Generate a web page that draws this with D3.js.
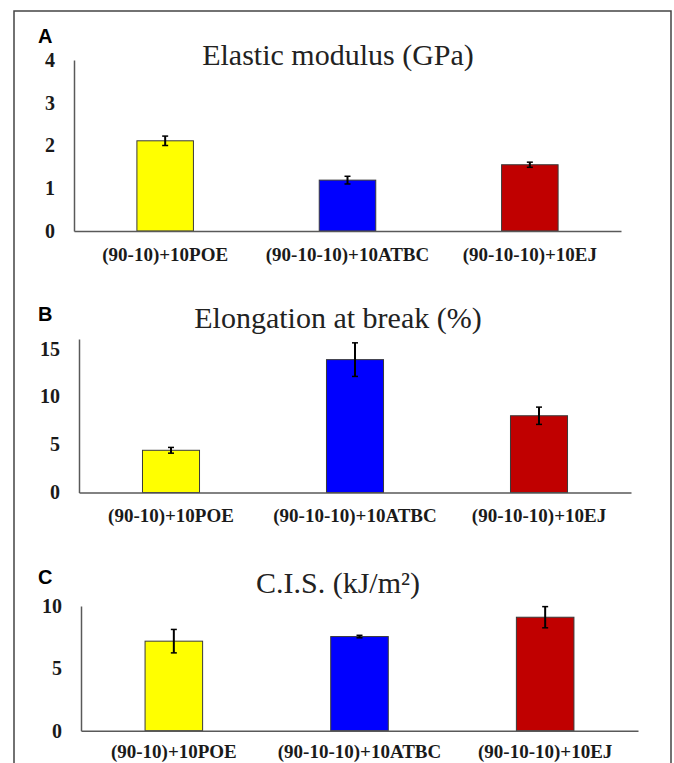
<!DOCTYPE html>
<html>
<head>
<meta charset="utf-8">
<script src="https://cdn.jsdelivr.net/npm/d3@7"></script>
<style>
  body { margin: 0; background: #fff; }
  svg { display: block; }
</style>
</head>
<body>
<div id="chart"></div>
<script>
// data
const categories = ["(90-10)+10POE", "(90-10-10)+10ATBC", "(90-10-10)+10EJ"];
const barColors = ["#FFFF00", "#0000FF", "#C00000"];

const modulus = [2.11, 1.19, 1.55];
const modulusErr = [0.11, 0.09, 0.06];
const modulusTicks = [0, 1, 2, 3, 4];

const elongation = [4.4, 13.85, 8.0];
const elongationErr = [0.3, 1.75, 0.9];
const elongationTicks = [0, 5, 10, 15];

const cis = [7.18, 7.55, 9.1];
const cisErr = [0.94, 0.1, 0.85];
const cisTicks = [0, 5, 10];

const W = 674, H = 763;

const svg = d3.select("#chart").append("svg")
    .attr("width", W)
    .attr("height", H);

// outer frame (open at the bottom, cropped)
svg.append("path")
    .attr("d", "M14," + (H + 5) + " L14,11 L671,11 L671," + (H + 5))
    .attr("fill", "none")
    .attr("stroke", "#444")
    .attr("stroke-width", 1.5);

const panels = [
  { letter: "A", title: "Elastic modulus (GPa)", values: modulus, err: modulusErr, ticks: modulusTicks,
    yMax: 4, x0: 74, x1: 621, yTop: 60, yBase: 231, letterY: 43, titleY: 65, labelPad: 16.5 },
  { letter: "B", title: "Elongation at break (%)", values: elongation, err: elongationErr, ticks: elongationTicks,
    yMax: 16, x0: 79, x1: 631, yTop: 339, yBase: 492.5, letterY: 321, titleY: 328, labelPad: 16.5 },
  { letter: "C", title: "C.I.S. (kJ/m\u00B2)", values: cis, err: cisErr, ticks: cisTicks,
    yMax: 10, x0: 81, x1: 638, yTop: 606, yBase: 730.7, letterY: 584, titleY: 593, labelPad: 14 }
];

panels.forEach(p => {
  const g = svg.append("g");

  const x = d3.scaleBand()
      .domain(categories)
      .range([p.x0, p.x1])
      .paddingInner(0.69)
      .paddingOuter(0.345);

  const y = d3.scaleLinear()
      .domain([0, p.yMax])
      .range([p.yBase, p.yTop]);

  // panel letter
  g.append("text")
      .attr("x", 38)
      .attr("y", p.letterY)
      .style("font-family", "'Liberation Sans', Arial, sans-serif")
      .style("font-weight", "bold")
      .style("font-size", "20px")
      .attr("fill", "#000")
      .text(p.letter);

  // title
  g.append("text")
      .attr("x", 338)
      .attr("y", p.titleY)
      .attr("text-anchor", "middle")
      .style("font-family", "'Liberation Serif', 'Times New Roman', serif")
      .style("font-size", "30px")
      .attr("fill", "#222")
      .text(p.title);

  // bars
  g.selectAll(".bar")
    .data(p.values)
    .enter().append("rect")
      .attr("class", "bar")
      .attr("x", (d, i) => x(categories[i]))
      .attr("y", d => y(d))
      .attr("width", x.bandwidth())
      .attr("height", d => y(0) - y(d))
      .attr("fill", (d, i) => barColors[i])
      .attr("stroke", "#3a3a3a")
      .attr("stroke-width", 1);

  // error bars
  const eb = g.selectAll(".err")
    .data(p.values)
    .enter().append("g")
      .attr("class", "err")
      .attr("transform", (d, i) => "translate(" + (x(categories[i]) + x.bandwidth() / 2) + ",0)");

  eb.append("line")
      .attr("y1", (d, i) => y(d + p.err[i]))
      .attr("y2", (d, i) => y(d - p.err[i]))
      .attr("stroke", "#000")
      .attr("stroke-width", 2);
  eb.append("line")
      .attr("x1", -3).attr("x2", 3)
      .attr("y1", (d, i) => y(d + p.err[i]))
      .attr("y2", (d, i) => y(d + p.err[i]))
      .attr("stroke", "#000")
      .attr("stroke-width", 1.5);
  eb.append("line")
      .attr("x1", -3).attr("x2", 3)
      .attr("y1", (d, i) => y(d - p.err[i]))
      .attr("y2", (d, i) => y(d - p.err[i]))
      .attr("stroke", "#000")
      .attr("stroke-width", 1.5);

  // y axis
  const yAxis = g.append("g")
      .attr("transform", "translate(" + p.x0 + ",0)")
      .call(d3.axisLeft(y).tickValues(p.ticks).tickSize(0).tickSizeOuter(0).tickPadding(19).tickFormat(d3.format("d")));

  // x axis
  const xAxis = g.append("g")
      .attr("transform", "translate(0," + p.yBase + ")")
      .call(d3.axisBottom(x).tickSize(0).tickSizeOuter(0).tickPadding(p.labelPad));

  [yAxis, xAxis].forEach(a => {
    a.select(".domain").attr("stroke", "#595959").attr("stroke-width", 1.5);
    a.selectAll("text")
      .style("font-family", "'Liberation Serif', 'Times New Roman', serif")
      .style("font-weight", "bold")
      .style("font-size", "19px")
      .attr("fill", "#1a1a1a");
  });
  yAxis.selectAll("text").style("font-size", "20px");
});
</script>
</body>
</html>
